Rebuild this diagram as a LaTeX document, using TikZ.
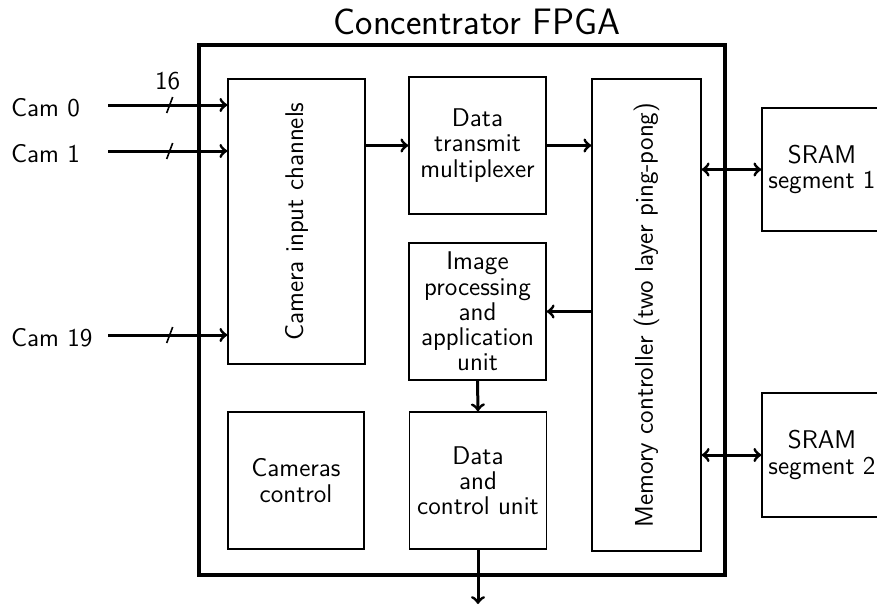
\documentclass[tikz,border=0pt]{standalone}
\usetikzlibrary{positioning}

\begin{document}
\begin{tikzpicture}[x=0.5pt,y=-0.5pt,
    block/.style={draw, line width=0.7pt, inner sep=1pt, align=center,
      font=\sffamily\fontsize{12.8}{12.6}\selectfont},
    bus/.style={line width=1.5pt},
    lbl/.style={font=\sffamily\fontsize{12.8}{14}\selectfont}]

  \useasboundingbox (0,0) rectangle (877,606);

  % FPGA outline and its title.
  \node[draw, line width=1.8pt, inner sep=0pt, minimum width=263pt, minimum height=265pt] (fpga) at (462,310) {};
  \node[font=\sffamily\fontsize{18.4}{20}\selectfont] (title) at (477,22) {Concentrator FPGA};

  % Blocks inside the FPGA.
  \node[block, minimum width=68.5pt, minimum height=142.5pt] (camin) at (296.5,221.5) {};
  \node[lbl, rotate=90] (camintxt) at (camin.center) {Camera input channels};
  \node[block, minimum width=68.5pt, minimum height=68.5pt] (mux) at (477.5,145.5) {Data\\transmit\\multiplexer};
  \node[block, minimum width=68.5pt, minimum height=68.5pt] (improc) at (477.5,311.5) {Image\\processing\\and\\application\\unit};
  \node[block, minimum width=68.5pt, minimum height=68.5pt] (dcu) at (478,480.5) {Data\\and\\control unit};
  \node[block, minimum width=68pt, minimum height=68.5pt] (camctrl) at (296,480.5) {Cameras\\control};
  \node[block, minimum width=54.5pt, minimum height=236pt] (mem) at (646.5,315) {};
  \node[lbl, rotate=90] (memtxt) at (mem.center) {Memory controller (two layer ping-pong)};

  % External memories.
  \node[block, minimum width=60pt, minimum height=61.5pt] (sram1) at (822,169.5) {SRAM\\segment 1};
  \node[block, minimum width=60pt, minimum height=62pt] (sram2) at (822,455) {SRAM\\segment 2};

  % Camera inputs, each a 16 bit bus.
  \foreach \y/\n in {105/0, 151/1, 335/19} {
    \node[lbl, anchor=west] (lcam\n) at (4,\y+3) {Cam \n};
    \coordinate (in\n) at (108,\y);
    \draw[bus,->] (in\n) -- coordinate[pos=0.517] (s\n) (in\n -| camin.west);
    \draw[line width=0.8pt] ([shift={(-3,8)}]s\n) -- ([shift={(3,-8)}]s\n);
  }
  \node[lbl, above=4pt of s0, xshift=-1pt] (bits) {16};

  % Data paths.
  \draw[bus,->] (camin.east |- mux.west) -- (mux.west);
  \draw[bus,->] (mux.east) -- (mux.east -| mem.west);
  \draw[bus,->] (mem.west |- improc.east) -- (improc.east);
  \draw[bus,->] (improc.south) -- (dcu.north);
  \coordinate (out) at (478,604);
  \draw[bus,->] (dcu.south) -- (out);
  \draw[bus,<->] (mem.east |- sram1.west) -- (sram1.west);
  \draw[bus,<->] (mem.east |- sram2.west) -- (sram2.west);

\end{tikzpicture}
\end{document}
